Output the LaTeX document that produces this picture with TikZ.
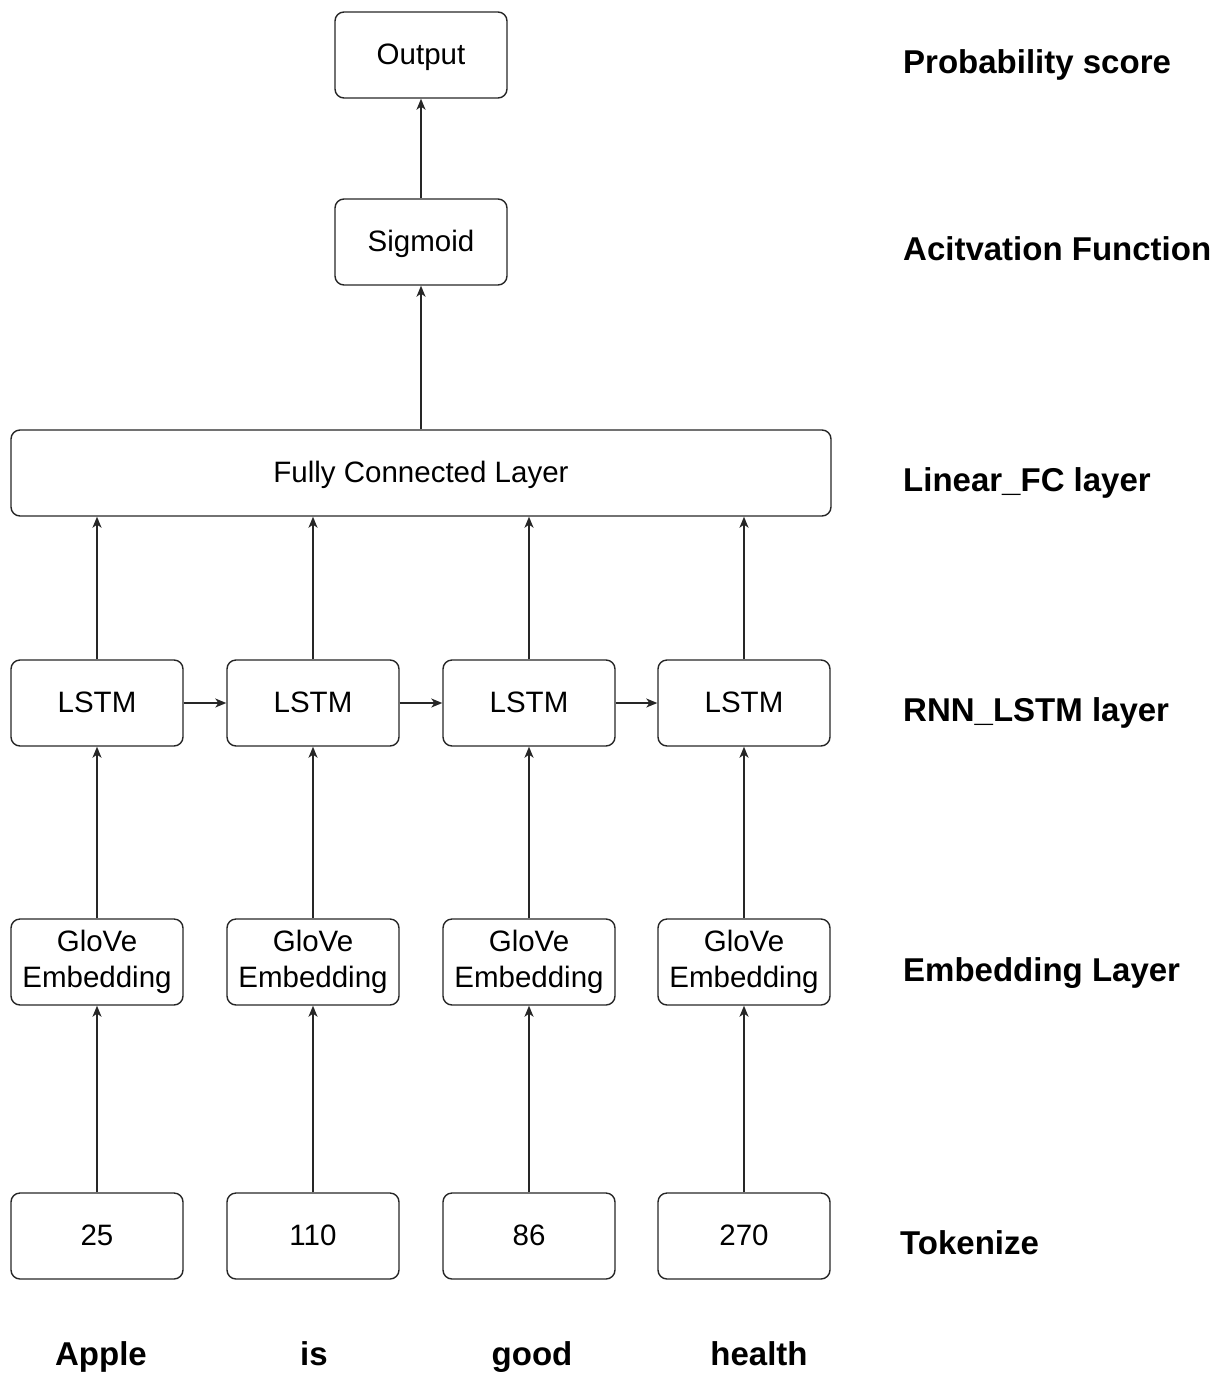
\documentclass[tikz,border=0pt]{standalone}
\usepackage{fontspec}
\setmainfont{Liberation Sans}
\usetikzlibrary{arrows.meta}
\newcommand{\bl}[1]{\raisebox{-9pt}[0pt][0pt]{#1}}
\begin{document}
\begin{tikzpicture}[x=1pt,y=-1pt,
  box/.style={draw=black!85,line width=1.4pt,rounded corners=9pt,minimum width=172pt,minimum height=86pt,inner sep=0pt,align=center,font=\fontsize{29.5}{36}\selectfont},
  lbl/.style={anchor=base west,inner sep=0pt,font=\fontsize{33}{38}\selectfont\bfseries},
  word/.style={anchor=base,inner sep=0pt,font=\fontsize{33}{38}\selectfont\bfseries},
  arr/.style={draw=black!85,line width=1.4pt,-{Stealth[length=11pt,width=9pt,inset=3pt]}}]
\useasboundingbox (0,0) rectangle (1223,1374);
\node[box] (out) at (421,55) {\bl{Output}};
\node[box] (sig) at (421,242) {\bl{Sigmoid}};
\node[box,minimum width=820pt] (fc) at (421,473) {\bl{Fully Connected Layer}};
\foreach \i/\x/\t in {1/97/25,2/313/110,3/529/86,4/744/270}{
  \node[box] (l\i) at (\x,703) {\bl{LSTM}};
  \node[box] (g\i) at (\x,962) {GloVe\\Embedding};
  \node[box] (t\i) at (\x,1236) {\bl{\t}};
}
\node[word] (w1) at (101,1365) {Apple};
\node[word] (w2) at (314,1365) {is};
\node[word] (w3) at (532,1365) {good};
\node[word] (w4) at (759,1365) {health};
\foreach \i in {1,2,3,4}{
  \draw[arr] (t\i) -- (g\i);
  \draw[arr] (g\i) -- (l\i);
  \draw[arr] (l\i.north) -- (fc.south -| l\i.north);
}
\draw[arr] (l1) -- (l2);
\draw[arr] (l2) -- (l3);
\draw[arr] (l3) -- (l4);
\draw[arr] (fc) -- (sig);
\draw[arr] (sig) -- (out);
\node[lbl] (r1) at (903,73) {Probability score};
\node[lbl] (r2) at (903,260) {Acitvation Function};
\node[lbl] (r3) at (903,491) {Linear\_FC layer};
\node[lbl] (r4) at (903,721) {RNN\_LSTM layer};
\node[lbl] (r5) at (903,981) {Embedding Layer};
\node[lbl] (r6) at (900,1254) {Tokenize};
\end{tikzpicture}
\end{document}
